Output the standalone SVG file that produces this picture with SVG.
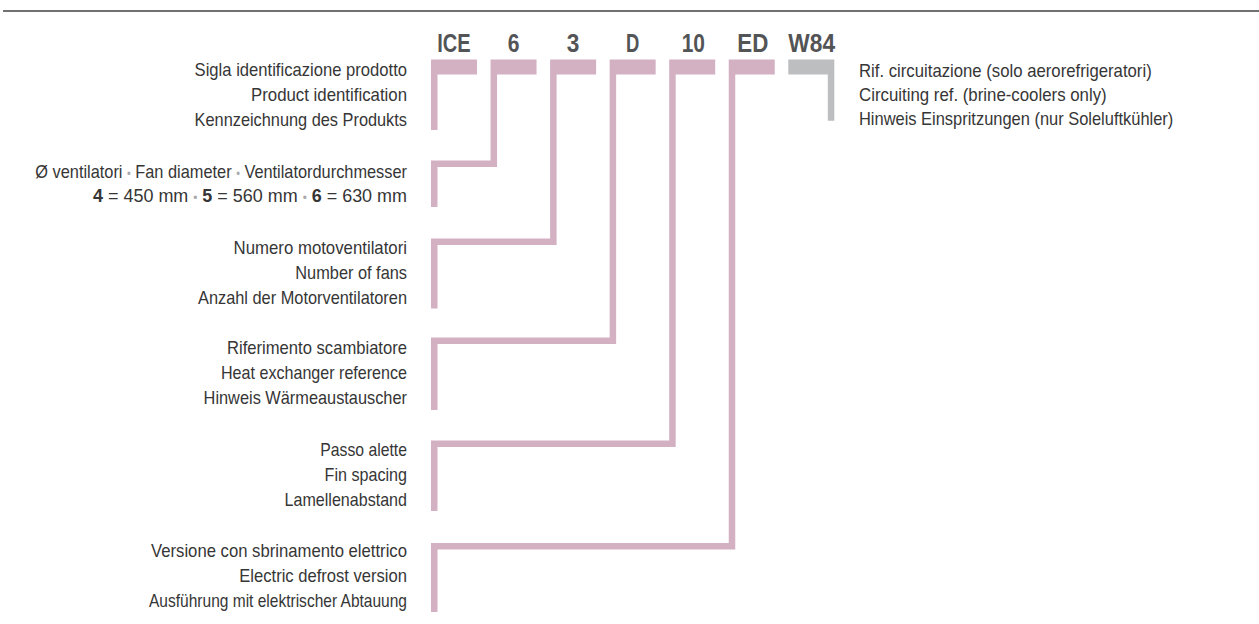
<svg xmlns="http://www.w3.org/2000/svg" width="1259" height="624" viewBox="0 0 1259 624">
<style>
.code{font-family:"Liberation Sans",Arial,sans-serif;font-weight:bold;font-size:25px;fill:#535456;text-anchor:middle}
.lbl{font-family:"Liberation Sans",Arial,sans-serif;font-size:18.5px;fill:#363636;text-anchor:end}
.rlbl{font-family:"Liberation Sans",Arial,sans-serif;font-size:18.5px;fill:#363636;text-anchor:start}
.b{font-weight:bold}
.dot{fill:#a7a9ac;font-size:12px}
.pink{fill:#d3b1c3}
.grey{fill:#bcbec0}
</style>
<rect x="3" y="10" width="1256" height="2" fill="#707173"/>
<g id="connectors">
<path class="pink" d="M431,59.5 H477 V74.5 H437.5 V130 H431 Z"/>
<path class="pink" d="M490.55,59.5 H536.55 V74.5 H497.05 V167 H437.5 V207 H431 V160.5 H490.55 Z"/>
<path class="pink" d="M550.1,59.5 H596.1 V74.5 H556.6 V245 H437.5 V308.5 H431 V238.5 H550.1 Z"/>
<path class="pink" d="M609.65,59.5 H655.65 V74.5 H616.15 V344 H437.5 V410 H431 V337.5 H609.65 Z"/>
<path class="pink" d="M669.2,59.5 H715.2 V74.5 H675.7 V447 H437.5 V511 H431 V440.5 H669.2 Z"/>
<path class="pink" d="M728.75,59.5 H774.75 V74.5 H735.25 V549.5 H437.5 V612 H431 V543 H728.75 Z"/>
<path class="grey" d="M788.3,59.5 H834.3 V120.7 H827.8 V74.5 H788.3 Z"/>
</g>
<g id="code-ICE"><text class="code" x="454" y="52" textLength="33.4" lengthAdjust="spacingAndGlyphs">ICE</text></g>
<g id="code-6"><text class="code" x="513.5" y="52" textLength="11.7" lengthAdjust="spacingAndGlyphs">6</text></g>
<g id="code-3"><text class="code" x="573" y="52" textLength="12.6" lengthAdjust="spacingAndGlyphs">3</text></g>
<g id="code-D"><text class="code" x="632.6" y="52" textLength="13.3" lengthAdjust="spacingAndGlyphs">D</text></g>
<g id="code-10"><text class="code" x="693.3" y="52" textLength="23.3" lengthAdjust="spacingAndGlyphs">10</text></g>
<g id="code-ED"><text class="code" x="752.8" y="52" textLength="31" lengthAdjust="spacingAndGlyphs">ED</text></g>
<g id="code-W84"><text class="code" x="811.7" y="52" textLength="46.7" lengthAdjust="spacingAndGlyphs">W84</text></g>
<g id="label-ICE">
<text class="lbl" x="407" y="76" textLength="212.4" lengthAdjust="spacingAndGlyphs">Sigla identificazione prodotto</text>
<text class="lbl" x="407" y="101" textLength="156" lengthAdjust="spacingAndGlyphs">Product identification</text>
<text class="lbl" x="407" y="126" textLength="212.4" lengthAdjust="spacingAndGlyphs">Kennzeichnung des Produkts</text>
</g>
<g id="label-6">
<text class="lbl" x="407" y="178" textLength="371.7" lengthAdjust="spacingAndGlyphs">Ø ventilatori <tspan class="dot">•</tspan> Fan diameter <tspan class="dot">•</tspan> Ventilatordurchmesser</text>
<text class="lbl" x="407" y="202" textLength="314" lengthAdjust="spacingAndGlyphs"><tspan class="b">4</tspan> = 450 mm <tspan class="dot">•</tspan> <tspan class="b">5</tspan> = 560 mm <tspan class="dot">•</tspan> <tspan class="b">6</tspan> = 630 mm</text>
</g>
<g id="label-3">
<text class="lbl" x="407" y="253.5" textLength="173.4" lengthAdjust="spacingAndGlyphs">Numero motoventilatori</text>
<text class="lbl" x="407" y="278.5" textLength="111.7" lengthAdjust="spacingAndGlyphs">Number of fans</text>
<text class="lbl" x="407" y="303.5" textLength="209" lengthAdjust="spacingAndGlyphs">Anzahl der Motorventilatoren</text>
</g>
<g id="label-D">
<text class="lbl" x="407" y="353.5" textLength="180" lengthAdjust="spacingAndGlyphs">Riferimento scambiatore</text>
<text class="lbl" x="407" y="378.5" textLength="186" lengthAdjust="spacingAndGlyphs">Heat exchanger reference</text>
<text class="lbl" x="407" y="403.5" textLength="203.4" lengthAdjust="spacingAndGlyphs">Hinweis Wärmeaustauscher</text>
</g>
<g id="label-10">
<text class="lbl" x="407" y="456" textLength="86.7" lengthAdjust="spacingAndGlyphs">Passo alette</text>
<text class="lbl" x="407" y="481" textLength="82.4" lengthAdjust="spacingAndGlyphs">Fin spacing</text>
<text class="lbl" x="407" y="506" textLength="122.4" lengthAdjust="spacingAndGlyphs">Lamellenabstand</text>
</g>
<g id="label-ED">
<text class="lbl" x="407" y="557" textLength="256" lengthAdjust="spacingAndGlyphs">Versione con sbrinamento elettrico</text>
<text class="lbl" x="407" y="582" textLength="167.7" lengthAdjust="spacingAndGlyphs">Electric defrost version</text>
<text class="lbl" x="407" y="607" textLength="258" lengthAdjust="spacingAndGlyphs">Ausführung mit elektrischer Abtauung</text>
</g>
<g id="label-W84">
<text class="rlbl" x="859" y="77" textLength="292.7" lengthAdjust="spacingAndGlyphs">Rif. circuitazione (solo aerorefrigeratori)</text>
<text class="rlbl" x="859" y="101" textLength="247.7" lengthAdjust="spacingAndGlyphs">Circuiting ref. (brine-coolers only)</text>
<text class="rlbl" x="859" y="125" textLength="314.3" lengthAdjust="spacingAndGlyphs">Hinweis Einspritzungen (nur Soleluftkühler)</text>
</g>
</svg>
